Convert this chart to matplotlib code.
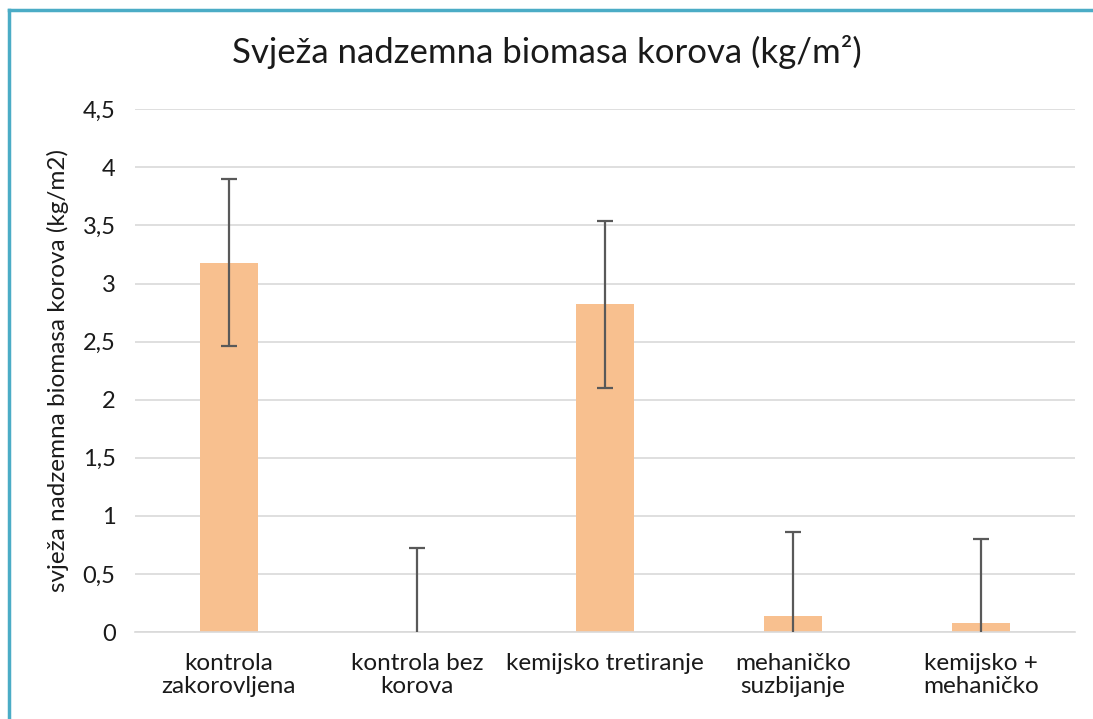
import matplotlib
matplotlib.use("Agg")
from matplotlib import pyplot as plt
from matplotlib.lines import Line2D
from matplotlib.ticker import FuncFormatter

categories = ["kontrola\nzakorovljena", "kontrola bez\nkorova", "kemijsko tretiranje",
              "mehaničko\nsuzbijanje", "kemijsko +\nmehaničko"]
values = [3.18, 0.0, 2.82, 0.14, 0.08]
errors = [0.72, 0.72, 0.72, 0.72, 0.72]
yticks = [0, 0.5, 1, 1.5, 2, 2.5, 3, 3.5, 4, 4.5]

plt.rcParams["font.family"] = ["Lato", "DejaVu Sans"]

fig = plt.figure(figsize=(10.93, 7.19), dpi=100)
ax = fig.add_axes([0.1235, 0.121, 0.86, 0.727])

xs = list(range(len(categories)))
ax.bar(xs, values, width=0.31, color="#F8C08F", zorder=2)

# error below the bar is cut at zero, and gets no cap there
lower = [min(v, e) for v, e in zip(values, errors)]
eb = ax.errorbar(xs, values, yerr=[lower, errors], fmt="none", ecolor="#595959",
                 elinewidth=1.6, capsize=6, capthick=1.6, zorder=3)
for cap in eb[1]:
    cx, cy = cap.get_data()
    keep = [i for i in range(len(cy)) if cy[i] > 1e-9]
    cap.set_data([cx[i] for i in keep], [cy[i] for i in keep])

ax.set_xlim(-0.5, len(categories) - 0.5)
ax.set_ylim(0, 4.5)
ax.set_yticks(yticks)
ax.yaxis.set_major_formatter(FuncFormatter(lambda v, p: f"{v:g}".replace(".", ",")))
ax.set_xticks(xs)
ax.set_xticklabels(categories, fontsize=17.5, color="#1a1a1a", linespacing=1.15)
ax.tick_params(axis="y", labelsize=17, length=0, pad=14, colors="#1a1a1a")
ax.tick_params(axis="x", length=0, pad=15)
ax.yaxis.grid(True, color="#d9d9d9", linewidth=1.2, zorder=0)
ax.set_axisbelow(True)
for s in ["top", "right", "left"]:
    ax.spines[s].set_visible(False)
ax.spines["bottom"].set_color("#d9d9d9")
ax.spines["bottom"].set_linewidth(1.2)

ax.set_ylabel("svježa nadzemna biomasa korova (kg/m2)", fontsize=17.5, color="#1a1a1a", labelpad=10)
fig.text(0.5, 0.928, "Svježa nadzemna biomasa korova (kg/m²)", ha="center", va="center",
         fontsize=25, color="#1a1a1a")

# teal chart frame (only top and left edges visible)
fig.add_artist(Line2D([0.0082, 1.0], [0.9854, 0.9854], transform=fig.transFigure,
                      color="#4BACC6", linewidth=2.5))
fig.add_artist(Line2D([0.0082, 0.0082], [0.0, 0.9854], transform=fig.transFigure,
                      color="#4BACC6", linewidth=2.5))

fig.savefig("out.png", dpi=100)
